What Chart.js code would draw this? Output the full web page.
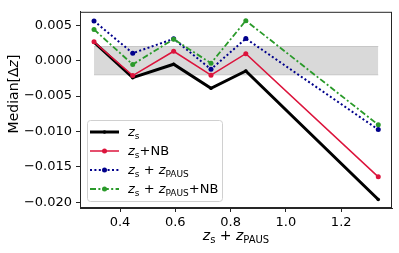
<!DOCTYPE html>
<html>
<head>
<meta charset="utf-8">
<script src="https://cdn.jsdelivr.net/npm/chart.js@4/dist/chart.umd.min.js"></script>
<style>
html,body{margin:0;padding:0;background:#fff;}
canvas{display:block;}
</style>
</head>
<body>
<canvas id="c" width="399" height="253"></canvas>
<script>
// ---- data ----
const X = [0.306, 0.446, 0.594, 0.729, 0.855, 1.334];
const ZS = [0.0026, -0.0024, -0.0005, -0.0039, -0.00145, -0.0196];
const ZS_NB = [0.00266, -0.0021, 0.00133, -0.00205, 0.00098, -0.0164];
const ZS_PAUS = [0.0056, 0.00106, 0.00308, -0.00122, 0.00312, -0.00973];
const ZS_PAUS_NB = [0.00441, -0.00054, 0.00304, -0.00036, 0.00565, -0.00905];
const BAND = [-0.002, 0.002];
const X_TICKS = [0.4, 0.6, 0.8, 1.0, 1.2];
const Y_TICKS = [-0.020, -0.015, -0.010, -0.005, 0.000, 0.005];
const SERIES_LABELS = ['zs', 'zs+NB', 'zs + zPAUS', 'zs + zPAUS+NB'];

const FONT = '"DejaVu Sans", "Liberation Sans", sans-serif';
const COLORS = ['#000000', '#dc143c', '#00008b', '#2a9a2a'];

function pts(ys){ return X.map((x,i)=>({x:x, y:ys[i]})); }

// rich text parts for labels
const RICH = [
  [{t:'z',i:1},{t:'s',s:1}],
  [{t:'z',i:1},{t:'s',s:1},{t:'+NB'}],
  [{t:'z',i:1},{t:'s',s:1},{t:' + '},{t:'z',i:1},{t:'PAUS',s:1}],
  [{t:'z',i:1},{t:'s',s:1},{t:' + '},{t:'z',i:1},{t:'PAUS',s:1},{t:'+NB'}]
];
function partFont(p, size){
  const sz = p.s ? Math.round(size*0.7) : size;
  return (p.i ? 'italic ' : '') + sz + 'px ' + FONT;
}
function richWidth(ctx, parts, size){
  let w = 0;
  for (const p of parts){ ctx.font = partFont(p,size); w += ctx.measureText(p.t).width; }
  return w;
}
function drawRich(ctx, parts, x, y, size){
  ctx.textBaseline = 'alphabetic';
  ctx.textAlign = 'left';
  for (const p of parts){
    ctx.font = partFont(p,size);
    ctx.fillText(p.t, x, y + (p.s ? 3 : 0));
    x += ctx.measureText(p.t).width;
  }
}

const DASHES = [[], [], [2, 2.4], [6, 2.4, 2, 2.4]];
const WIDTHS = [3, 1.5, 2, 1.8];
const RADII = [1.8, 2.5, 2.5, 2.5];

const datasets = [
  {data:[{x:X[0],y:BAND[1]},{x:X[X.length-1],y:BAND[1]}], borderColor:'rgba(128,128,128,0.35)', borderWidth:1, pointRadius:0, fill:false, order:10, backgroundColor:'rgba(128,128,128,0.3)'},
  {data:[{x:X[0],y:BAND[0]},{x:X[X.length-1],y:BAND[0]}], borderColor:'rgba(128,128,128,0.35)', borderWidth:1, pointRadius:0, fill:'-1', order:9, backgroundColor:'rgba(128,128,128,0.3)'}
];
[ZS, ZS_NB, ZS_PAUS, ZS_PAUS_NB].forEach((s,k)=>{
  datasets.push({
    label: SERIES_LABELS[k],
    data: pts(s),
    borderColor: COLORS[k],
    backgroundColor: COLORS[k],
    borderWidth: WIDTHS[k],
    borderDash: DASHES[k],
    pointRadius: RADII[k],
    pointBorderWidth: 0,
    pointBackgroundColor: COLORS[k],
    fill: false,
    tension: 0,
    order: 8 - k
  });
});

const extras = {
  id: 'extras',
  afterDraw(chart){
    const ctx = chart.ctx;
    const a = chart.chartArea;
    ctx.save();
    // frame
    ctx.strokeStyle = '#262626';
    ctx.lineWidth = 1;
    ctx.strokeRect(a.left+0.5, a.top+0.5, a.right-a.left-1, a.bottom-a.top-1);
    // legend
    const lx = 87, ly = 120, lw = 135, lh = 81;
    ctx.beginPath();
    ctx.roundRect(lx+0.5, ly+0.5, lw, lh, 3);
    ctx.fillStyle = 'rgba(255,255,255,0.8)';
    ctx.fill();
    ctx.strokeStyle = '#d0d0d0';
    ctx.lineWidth = 1;
    ctx.stroke();
    const rows = [132, 151, 170, 189];
    for (let k=0;k<4;k++){
      const y = rows[k];
      ctx.strokeStyle = COLORS[k];
      ctx.lineWidth = WIDTHS[k];
      ctx.setLineDash(DASHES[k]);
      ctx.beginPath();
      ctx.moveTo(90, y); ctx.lineTo(119, y);
      ctx.stroke();
      ctx.setLineDash([]);
      ctx.fillStyle = COLORS[k];
      ctx.beginPath();
      ctx.arc(104.5, y, RADII[k], 0, Math.PI*2);
      ctx.fill();
      ctx.fillStyle = '#000';
      drawRich(ctx, RICH[k], 128, y+3.5, 13);
    }
    // x title
    const xt = RICH[2];
    const w = richWidth(ctx, xt, 14);
    ctx.fillStyle = '#000';
    drawRich(ctx, xt, (a.left+a.right)/2 - w/2, 240, 14);
    // y title
    ctx.translate(13, 94);
    ctx.rotate(-Math.PI/2);
    const yt = [{t:'Median[Δ'},{t:'z',i:1},{t:']'}];
    const wy = richWidth(ctx, yt, 14);
    drawRich(ctx, yt, -wy/2, 5, 14);
    ctx.restore();
  }
};

new Chart(document.getElementById('c'), {
  type: 'line',
  data: { datasets: datasets },
  options: {
    responsive: false,
    animation: false,
    layout: { padding: { left: 0, top: 6, right: 7, bottom: 0 } },
    plugins: { legend: { display: false }, tooltip: { enabled: false } },
    scales: {
      x: {
        type: 'linear',
        min: 0.2553, max: 1.3837,
        afterBuildTicks(s){ s.ticks = X_TICKS.map(v=>({value:v})); },
        afterFit(s){ s.height = 45; },
        ticks: {
          font: { family: FONT, size: 13 }, color: '#000', padding: 3, maxRotation: 0,
          callback: v => Number(v).toFixed(1)
        },
        grid: { drawOnChartArea: false, drawTicks: true, tickLength: 4, tickColor: '#262626' },
        border: { display: true, color: '#262626' }
      },
      y: {
        type: 'linear',
        min: -0.0208, max: 0.0069,
        afterBuildTicks(s){ s.ticks = Y_TICKS.map(v=>({value:v})); },
        afterFit(s){ s.width = 80; },
        ticks: {
          font: { family: FONT, size: 13 }, color: '#000', padding: 4,
          callback: v => (v < -1e-9 ? '\u2212' : '') + Math.abs(v).toFixed(3)
        },
        grid: { drawOnChartArea: false, drawTicks: true, tickLength: 4, tickColor: '#262626' },
        border: { display: true, color: '#262626' }
      }
    }
  },
  plugins: [extras]
});
</script>
</body>
</html>
